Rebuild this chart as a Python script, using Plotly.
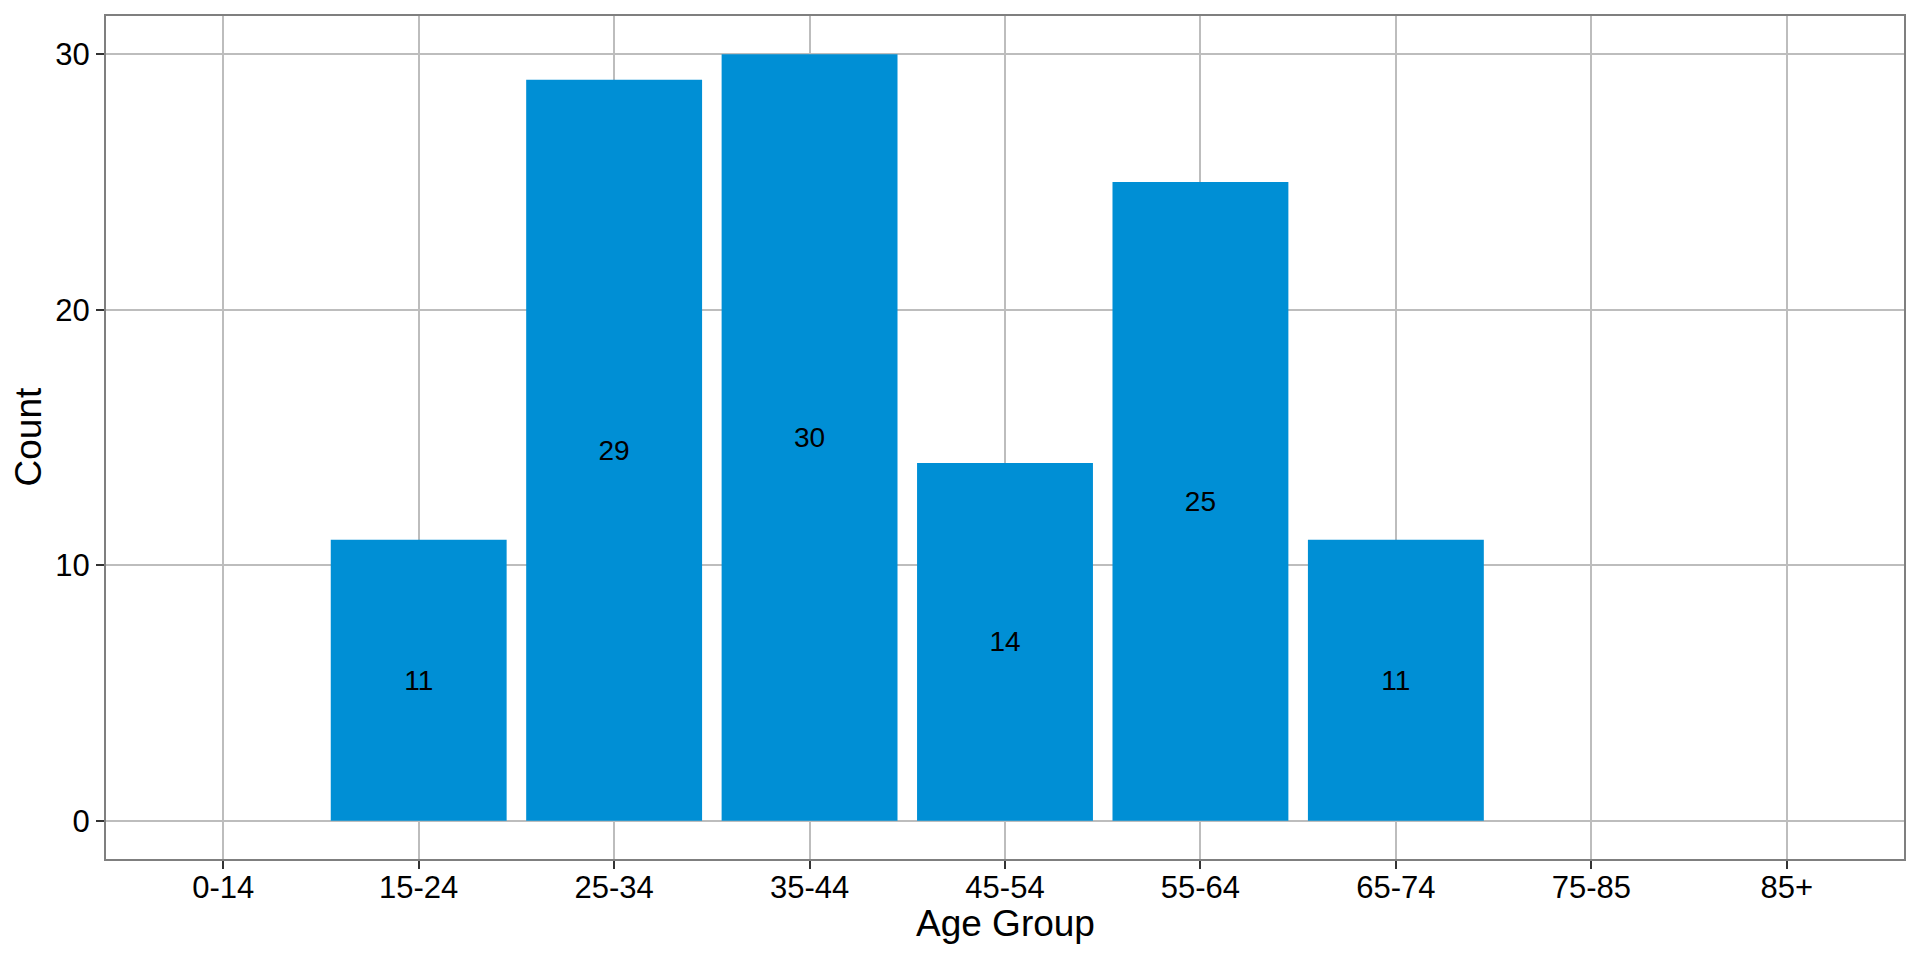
import plotly.graph_objects as go

age_groups = ["0-14", "15-24", "25-34", "35-44", "45-54", "55-64", "65-74", "75-85", "85+"]
counts = [0, 11, 29, 30, 14, 25, 11, 0, 0]
y_ticks = [0, 10, 20, 30]

bar_x = [a for a, c in zip(age_groups, counts) if c > 0]
bar_y = [c for c in counts if c > 0]
bar_text = [str(c) for c in bar_y]

FONT = "Liberation Sans, Arial, sans-serif"

fig = go.Figure()
fig.add_trace(go.Bar(
    x=bar_x, y=bar_y, width=0.9,
    marker=dict(color="#008fd5", line=dict(width=0)),
    text=bar_text, textposition="inside", insidetextanchor="middle",
    textangle=0, constraintext="none",
    insidetextfont=dict(family=FONT, size=28, color="black"),
    hoverinfo="x+y",
))

axis_common = dict(
    showline=True, mirror=True, linecolor="#7f7f7f", linewidth=2,
    showgrid=True, gridcolor="#bdbdbd", gridwidth=2,
    zeroline=False,
    ticks="outside", ticklen=8, tickwidth=2, tickcolor="#333333",
    tickfont=dict(family=FONT, size=31, color="black"),
)

# page body has an 8px margin, so the figure is sized to fit inside the window
fig.update_layout(
    width=1904, height=944,
    margin=dict(l=98, r=7, t=6, b=93),
    paper_bgcolor="white", plot_bgcolor="white",
    showlegend=False,
    bargap=0.1,
    xaxis=dict(type="category", categoryorder="array", categoryarray=age_groups,
               range=[-0.6, len(age_groups) - 1 + 0.6], ticklabelstandoff=-8,
               **axis_common),
    yaxis=dict(range=[-1.5, 31.5], tickvals=y_ticks, **axis_common),
    annotations=[
        dict(text="Age Group", xref="paper", yref="paper", x=0.5, y=0,
             xanchor="center", yanchor="middle", yshift=-64, showarrow=False,
             font=dict(family=FONT, size=37, color="black")),
        dict(text="Count", xref="paper", yref="paper", x=0, y=0.5,
             xanchor="center", yanchor="middle", xshift=-78, textangle=-90,
             showarrow=False, font=dict(family=FONT, size=37, color="black")),
    ],
)

fig.write_html("out.html")
